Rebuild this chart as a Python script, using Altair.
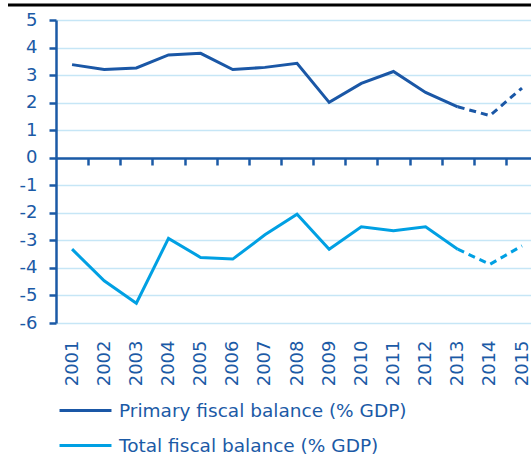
import altair as alt
import pandas as pd

years = list(range(2001, 2016))
primary = [3.38, 3.20, 3.26, 3.73, 3.79, 3.20, 3.28, 3.43, 2.01, 2.70, 3.13, 2.37, 1.85, 1.53, 2.53]
total = [-3.32, -4.47, -5.28, -2.93, -3.62, -3.68, -2.80, -2.05, -3.32, -2.51, -2.65, -2.51, -3.32, -3.87, -3.20]
series_names = ["Primary fiscal balance (% GDP)", "Total fiscal balance (% GDP)"]
series_colors = ["#1a57a6", "#00a0e3"]
forecast_start = 2013
y_ticks = list(range(-6, 6))
year_boundaries = [y + 0.5 for y in range(2001, 2015)]

TEXT = "#1b5aa6"
GRID = "#c6e6f6"
FONT = "DejaVu Sans"

rows = []
for name, vals in zip(series_names, [primary, total]):
    for yr, v in zip(years, vals):
        if yr <= forecast_start:
            rows.append({"year": yr, "value": v, "series": name, "part": "actual"})
        if yr >= forecast_start:
            rows.append({"year": yr, "value": v, "series": name, "part": "forecast"})
df = pd.DataFrame(rows)

x_scale = alt.Scale(domain=[2000.5, 2015.28], nice=False, zero=False)
y_scale = alt.Scale(domain=[-6, 5], nice=False)
y_axis = alt.Axis(
    values=y_ticks, labelExpr="'' + datum.value", labelOverlap=False,
    domainColor=TEXT, domainWidth=2.5, tickColor=TEXT, tickWidth=2.5,
    tickSize=7, labelFontSize=18, labelColor=TEXT, labelFont=FONT, labelPadding=12,
    grid=True, gridColor=GRID, gridWidth=1.5, title=None)
color = alt.Color(
    "series:N",
    scale=alt.Scale(domain=series_names, range=series_colors),
    sort=series_names,
    legend=alt.Legend(
        title=None, orient="none", legendX=19, legendY=380, direction="vertical",
        symbolType="M-3,0L3,0", symbolSize=300, symbolStrokeWidth=3,
        labelFontSize=18.5, labelColor=TEXT, labelFont=FONT, labelOffset=23,
        labelLimit=0, rowPadding=15, padding=0,
    ),
)

base = alt.Chart(df)

actual = base.transform_filter(alt.datum.part == "actual").mark_line(strokeWidth=3).encode(
    x=alt.X("year:Q", scale=x_scale, axis=alt.Axis(
        orient="bottom", values=years, format="d", labelAngle=270, labelFontSize=18,
        labelColor=TEXT, labelFont=FONT, domain=False, ticks=False, grid=False,
        labelPadding=17, title=None, labelAlign="right", labelBaseline="middle",
        labelOverlap=False)),
    y=alt.Y("value:Q", scale=y_scale, axis=y_axis),
    color=color,
    detail="series:N",
)

forecast = base.transform_filter(alt.datum.part == "forecast").mark_line(
    strokeWidth=3, strokeDash=[7, 5]).encode(
    x=alt.X("year:Q", scale=x_scale, axis=alt.Axis(
        orient="bottom", values=year_boundaries, labels=False, domainColor=TEXT,
        domainWidth=2.5, tickColor=TEXT, tickWidth=2.5, tickSize=7, grid=False,
        title=None, offset=-165)),
    y=alt.Y("value:Q", scale=y_scale, axis=y_axis),
    color=color,
    detail="series:N",
)

top_rule = alt.Chart(pd.DataFrame({"a": [0]})).mark_rule(color="black", strokeWidth=3).encode(
    x=alt.value(-48), x2=alt.value(475), y=alt.value(-15)
)

chart = alt.layer(actual, forecast, top_rule).resolve_axis(x="independent").properties(
    width=475, height=303,
    autosize=alt.AutoSizeParams(type="none"),
    padding={"left": 56, "top": 20, "right": 0, "bottom": 133},
).configure_view(stroke=None)

chart.save("out.html", embed_options={"renderer": "svg", "actions": False})
